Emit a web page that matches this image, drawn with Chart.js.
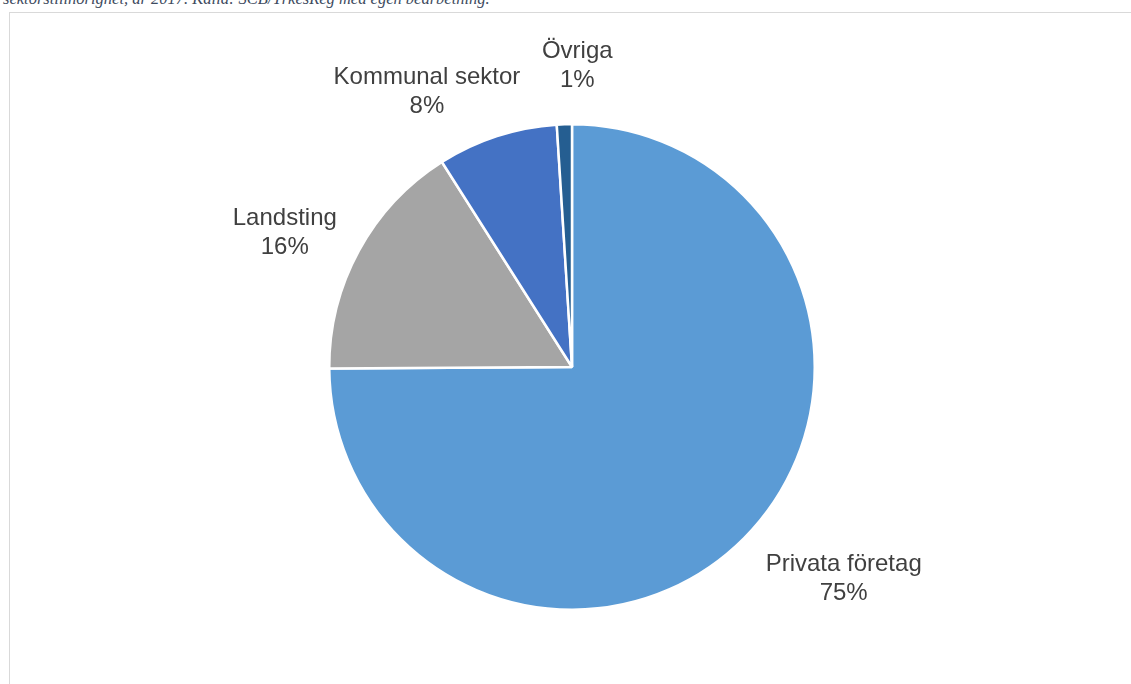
<!DOCTYPE html>
<html>
<head>
<meta charset="utf-8">
<script src="https://cdn.jsdelivr.net/npm/chart.js@4/dist/chart.umd.min.js"></script>
<style>
  html, body { margin: 0; padding: 0; background: #fff; overflow: hidden; }
  #caption {
    position: absolute; left: 3px; top: -9px; white-space: nowrap;
    font-family: "Liberation Serif", serif; font-style: italic; font-size: 16.5px;
    line-height: 16px; color: #3E4B60;
  }
  #frame {
    position: absolute; left: 9px; top: 12px; width: 1140px; height: 700px;
    border: 1px solid #D9D9D9; box-sizing: border-box;
  }
  #pieChart { position: absolute; left: 0; top: 0; }
</style>
</head>
<body>
<div id="caption">sektorstillhörighet, år 2017. Källa: SCB/YrkesReg med egen bearbetning.</div>
<div id="frame"></div>
<canvas id="pieChart" width="1131" height="684"></canvas>
<script>
var sectors = ["Privata företag", "Landsting", "Kommunal sektor", "Övriga"];
var shares = [74.9, 16.1, 8.0, 1.0];
var shareLabels = ["75%", "16%", "8%", "1%"];
var sliceColors = ["#5B9BD5", "#A5A5A5", "#4472C4", "#255E91"];

// label placement: distance as a multiple of the radius, and a turn (degrees) off the slice middle
var labelDistance = [1.413, 1.31, 1.29, 1.25];
var labelTurn = [-7.2, -3.2, -9.6, 2.8];

var sliceLabels = {
  id: "sliceLabels",
  afterDatasetsDraw: function (chart) {
    var ctx = chart.ctx;
    var arcs = chart.getDatasetMeta(0).data;
    ctx.save();
    ctx.font = "24px 'Liberation Sans', Arial, sans-serif";
    ctx.fillStyle = "#404040";
    ctx.textAlign = "center";
    ctx.textBaseline = "middle";
    arcs.forEach(function (arc, i) {
      var mid = (arc.startAngle + arc.endAngle) / 2 + labelTurn[i] * Math.PI / 180;
      var d = arc.outerRadius * labelDistance[i];
      var x = arc.x + Math.cos(mid) * d;
      var y = arc.y + Math.sin(mid) * d;
      ctx.fillText(sectors[i], x, y - 12);
      ctx.fillText(shareLabels[i], x, y + 17);
    });
    ctx.restore();
  }
};

var pieCTX = document.getElementById("pieChart").getContext("2d");
new Chart(pieCTX, {
  type: "pie",
  data: {
    labels: sectors,
    datasets: [{
      data: shares,
      backgroundColor: sliceColors,
      borderColor: "#ffffff",
      borderWidth: 2.5
    }]
  },
  options: {
    responsive: false,
    animation: false,
    layout: { padding: { left: 272, right: 259, top: 123, bottom: 73 } },
    plugins: {
      legend: { display: false },
      tooltip: { enabled: false }
    }
  },
  plugins: [sliceLabels]
});
</script>
</body>
</html>
